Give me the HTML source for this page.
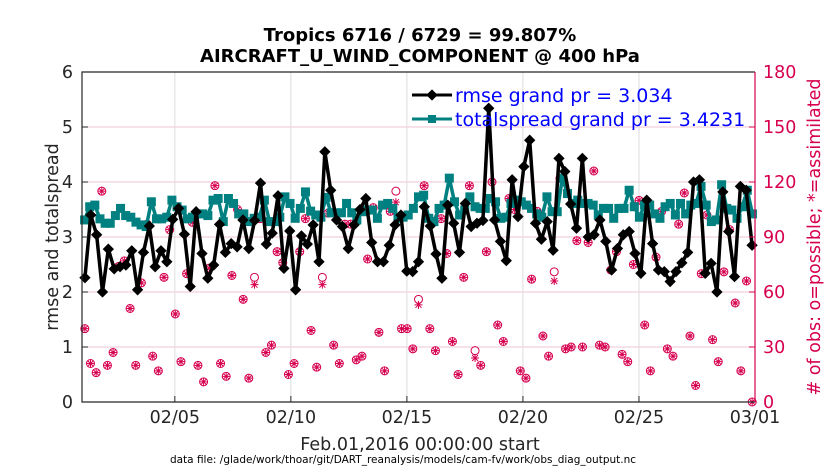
<!DOCTYPE html>
<html><head><meta charset="utf-8"><style>
body{margin:0;background:#fff;}
svg{display:block;font-family:"DejaVu Sans","Liberation Sans",sans-serif;}
</style></head><body>
<svg id="chart" width="840" height="473" viewBox="0 0 840 473">
<rect width="840" height="473" fill="#fff"/>
<g id="grid"></g>
<g id="obs"></g>
<g id="series"></g>
<g id="axes"></g>
<text x="420" y="41" text-anchor="middle" font-size="18" font-weight="bold">Tropics 6716 / 6729 = 99.807%</text>
<text x="420" y="62" text-anchor="middle" font-size="18" font-weight="bold">AIRCRAFT_U_WIND_COMPONENT @ 400 hPa</text>
<text transform="translate(58,237) rotate(-90)" text-anchor="middle" font-size="17.5" fill="#262626">rmse and totalspread</text>
<text transform="translate(820,237) rotate(-90)" text-anchor="middle" font-size="17.5" fill="#d6004f"># of obs: o=possible; *=assimilated</text>
<text x="420" y="450" text-anchor="middle" font-size="17.5" fill="#262626">Feb.01,2016 00:00:00 start</text>
<text x="403" y="463" text-anchor="middle" font-size="10.5" fill="#000">data file: /glade/work/thoar/git/DART_reanalysis/models/cam-fv/work/obs_diag_output.nc</text>
<g>
<line x1="412" y1="95" x2="452" y2="95" stroke="#000" stroke-width="3"/>
<rect x="428" y="91" width="8" height="8" transform="rotate(45 432 95)" fill="#000"/>
<text x="455" y="102" font-size="19" fill="#0000ff">rmse grand pr = 3.034</text>
<line x1="412" y1="119" x2="452" y2="119" stroke="#008080" stroke-width="3"/>
<rect x="428" y="115" width="8" height="8" fill="#008080"/>
<text x="455" y="126" font-size="19" fill="#0000ff">totalspread grand pr = 3.4231</text>
</g>
</svg>
<script>
const rmse=[2.26,3.40,3.04,2.0,2.78,2.42,2.46,2.49,2.75,2.04,2.72,3.2,2.46,2.75,2.55,3.32,3.52,3.05,2.1,3.46,2.7,2.25,2.49,3.23,2.72,2.88,2.82,3.31,2.79,
3.3,3.98,2.87,3.07,3.75,2.43,3.11,2.04,3.02,2.87,3.22,2.55,4.55,3.85,3.31,3.19,2.79,3.22,3.5,3.70,2.9,2.55,2.55,2.85,3.22,3.4,2.38,
2.37,2.55,3.55,3.2,2.69,2.25,3.58,3.25,2.72,3.61,3.19,3.25,3.3,5.34,3.31,2.92,2.57,4.04,3.37,4.28,4.76,3.25,2.96,3.28,2.76,4.43,4.19,3.6,3.16,4.43,
3.0,3.04,3.31,2.92,2.4,2.79,3.04,3.1,2.7,2.34,3.67,2.88,2.4,2.37,2.19,2.37,2.53,2.72,4.0,4.04,2.34,2.52,2.0,3.82,3.1,2.28,3.92,3.85,2.85];
const spread=[3.31,3.55,3.58,3.33,3.25,3.25,3.39,3.52,3.39,3.36,3.27,3.22,3.19,3.64,3.33,3.33,3.36,3.67,3.55,3.49,3.33,3.36,3.42,3.42,3.39,3.67,3.70,3.28,3.70,3.61,3.42,3.42,3.28,
3.34,3.36,3.67,3.28,3.28,3.36,3.73,3.61,3.34,3.52,3.82,3.47,3.40,3.36,3.72,3.44,3.44,3.44,3.61,3.44,3.31,3.46,3.49,3.49,3.34,3.58,3.61,3.52,3.34,3.36,
3.40,3.52,3.73,3.76,3.34,3.28,3.52,3.58,4.07,3.64,3.40,3.49,3.73,3.55,3.52,3.52,3.70,3.64,3.34,3.36,3.61,3.67,3.64,3.58,3.52,3.42,3.36,3.73,3.46,3.46,4.07,3.79,3.61,3.67,3.61,
3.61,3.58,3.40,3.52,3.52,3.34,3.52,3.52,3.85,3.55,3.36,3.58,3.58,3.42,3.34,3.55,3.61,3.40,3.61,3.42,3.58,3.61,3.92,3.58,3.28,3.31,3.95,3.52,3.49,3.34,3.55,3.85,3.42];
const possible=[40,21,16,115,20,27,74,77,51,20,65,97,25,17,68,94,48,22,70,98,20,11,73,118,21,14,69,105,
56,13,68,100,27,31,82,76,15,21,82,100,39,19,68,103,31,21,97,97,23,25,78,106,38,17,104,115,40,
40,29,56,118,40,28,100,81,33,15,68,118,28,20,82,120,42,33,111,105,17,13,67,104,36,25,71,122,29,30,88,
30,87,126,31,30,72,82,26,22,75,110,42,17,79,104,29,25,97,114,36,9,70,102,34,22,71,94,54,17,66,0];
const assimilated=[40,21,16,115,20,27,74,77,51,20,65,97,25,17,68,94,48,22,70,98,20,11,73,118,21,14,69,105,
56,13,64,100,27,31,82,76,15,21,82,100,39,19,64,103,31,21,97,97,23,25,78,106,38,17,104,109,40,
40,29,53,118,40,28,100,81,33,15,68,118,24,20,82,120,42,33,111,105,17,13,67,104,36,25,66,122,29,30,88,
30,87,126,31,30,72,82,26,22,75,110,42,17,79,104,29,25,97,114,36,9,70,102,34,22,71,94,54,17,66,0];
const xTickLabels=["02/05","02/10","02/15","02/20","02/25","03/01"];
const xTickDays=[4,9,14,19,24,29];
const yTicks=[0,1,2,3,4,5,6];
const y2Ticks=[0,30,60,90,120,150,180];

const NS="http://www.w3.org/2000/svg";
const L=82,R=755,T=72,B=402,DAYS=29;
const xDay=d=>L+d/DAYS*(R-L);
const yL=v=>B-v/6*(B-T);
const yR=v=>B-v/180*(B-T);
const xIdx=(i,n)=>xDay((i+0.5)*DAYS/n);
function mk(tag,attrs,parent){const e=document.createElementNS(NS,tag);for(const k in attrs)e.setAttribute(k,attrs[k]);parent.appendChild(e);return e;}
const grid=document.getElementById('grid'),axes=document.getElementById('axes'),series=document.getElementById('series'),obs=document.getElementById('obs');
mk('rect',{x:L,y:T,width:R-L,height:B-T,fill:'#fff'},grid);
yTicks.forEach(v=>{if(v>0&&v<6){const g=mk('line',{x1:L,x2:R,y1:yL(v),y2:yL(v),stroke:'#f2c6d6','stroke-width':1},grid);

}});
xTickDays.forEach((d,i)=>{const x=xDay(d);
if(i<xTickDays.length-1){const g=mk('line',{x1:x,x2:x,y1:T,y2:B,stroke:'#dcdcdc','stroke-width':1},grid);

}
mk('line',{x1:x,x2:x,y1:B,y2:B-6,stroke:'#262626'},axes);
const t=mk('text',{x:x,y:B+21,'text-anchor':'middle','font-size':17.5,fill:'#262626'},axes);t.textContent=xTickLabels[i];

});
yTicks.forEach(v=>{const y=yL(v);mk('line',{x1:L,x2:L+6,y1:y,y2:y,stroke:'#262626'},axes);
const t=mk('text',{x:L-9,y:y+6,'text-anchor':'end','font-size':17.5,fill:'#262626'},axes);t.textContent=v;

});
y2Ticks.forEach(v=>{const y=yR(v);mk('line',{x1:R-6,x2:R,y1:y,y2:y,stroke:'#d6004f'},axes);
const t=mk('text',{x:R+8,y:y+6,'text-anchor':'start','font-size':17.5,fill:'#d6004f'},axes);t.textContent=v;

});
mk('path',{d:`M${R},${T}H${L}V${B}H${R}`,fill:'none',stroke:'#262626','stroke-width':1.2},axes);
mk('line',{x1:R,x2:R,y1:T,y2:B,stroke:'#d6004f','stroke-width':1.2},axes);

possible.forEach((v,i)=>{const x=xIdx(i,possible.length),y=yR(v);
const c=mk('circle',{cx:x,cy:y,r:4,fill:'none',stroke:'#d6004f','stroke-width':1},obs);

});
assimilated.forEach((v,i)=>{const x=xIdx(i,assimilated.length),y=yR(v);
const g=mk('path',{d:`M${x-4},${y}h8M${x},${y-4}v8M${x-3},${y-3}l6,6M${x-3},${y+3}l6,-6`,stroke:'#d6004f','stroke-width':1},obs);

});

function drawLine(arr,color,name,marker){
 const pts=arr.map((v,i)=>[xIdx(i,arr.length),yL(v)]);
 const p=mk('polyline',{points:pts.map(p=>p.join(',')).join(' '),fill:'none',stroke:color,'stroke-width':3.5,'stroke-linejoin':'round'},series);
 
 
 pts.forEach(([x,y])=>{let m;
  if(marker==='d')m=mk('rect',{x:x-4,y:y-4,width:8,height:8,transform:`rotate(45 ${x} ${y})`,fill:color},series);
  else m=mk('rect',{x:x-4.5,y:y-4.5,width:9,height:9,fill:color},series);
  
  });
}
drawLine(spread,'#008080','totalspread','s');
drawLine(rmse,'#000000','rmse','d');
</script>
</body></html>
